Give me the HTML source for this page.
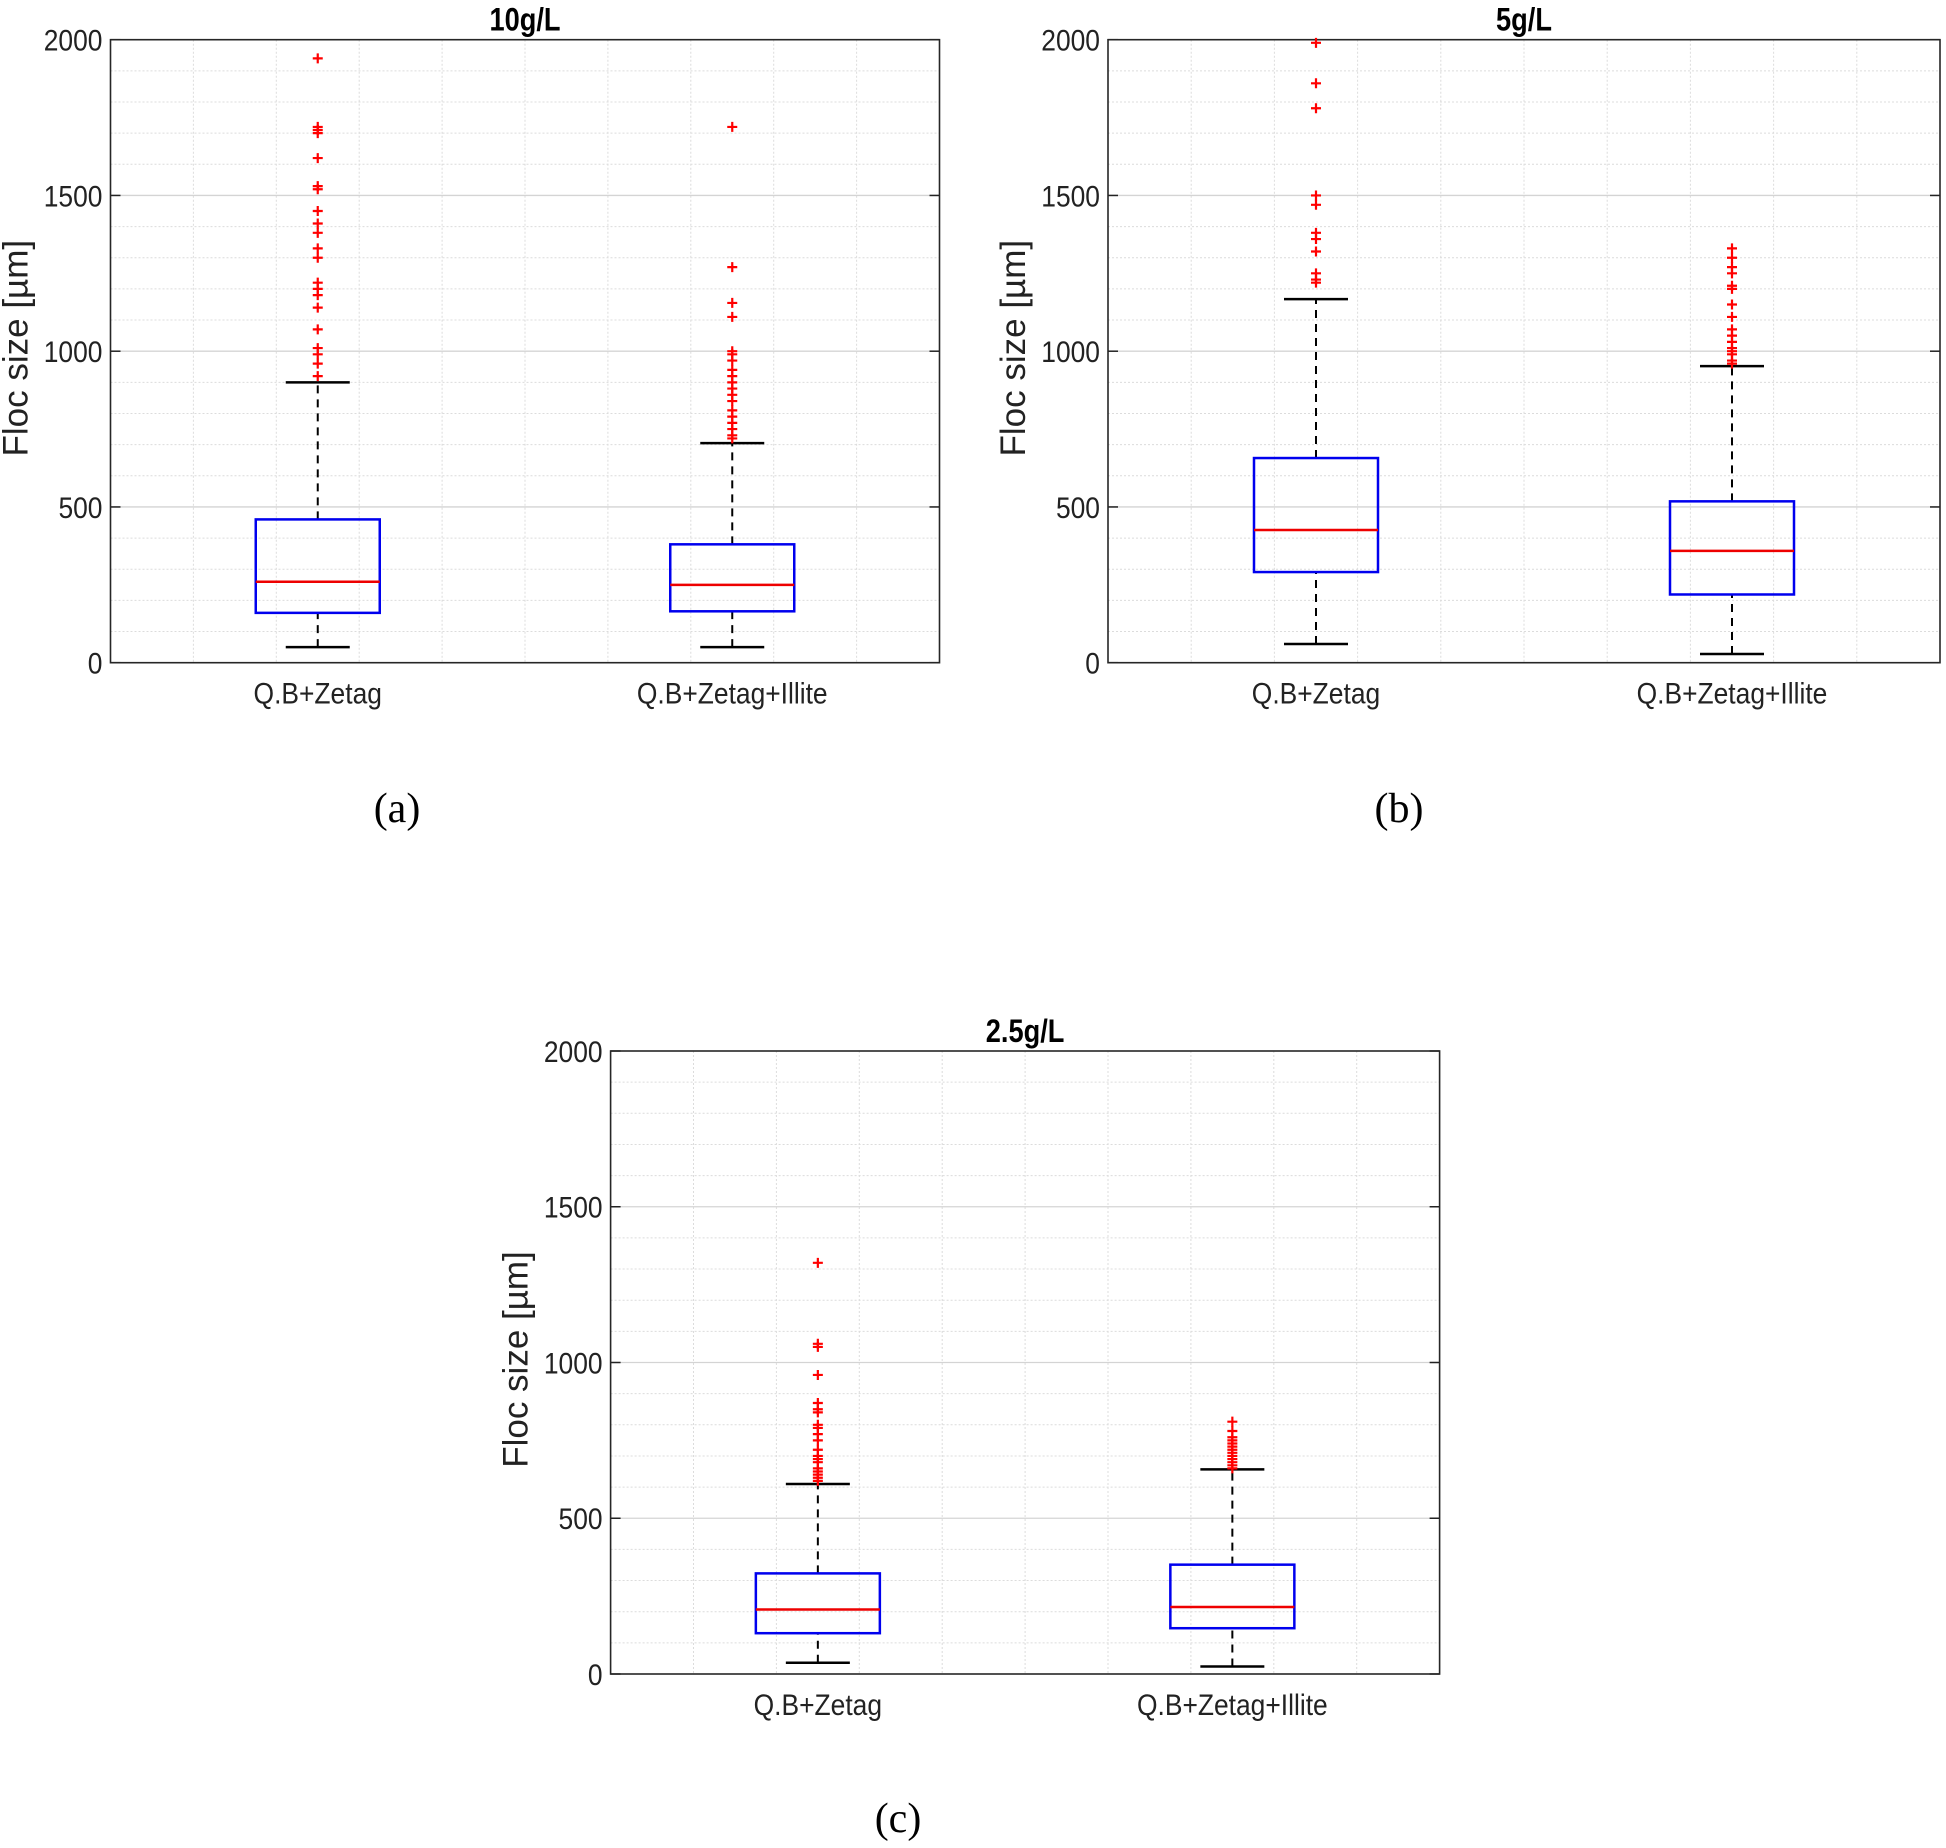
<!DOCTYPE html>
<html><head><meta charset="utf-8"><style>
html,body{margin:0;padding:0;background:#fff;}
svg{display:block;}
text{font-family:"Liberation Sans",Arial,sans-serif;}
</style></head>
<body>
<svg id="fig" width="1946" height="1848" viewBox="0 0 1946 1848" xmlns="http://www.w3.org/2000/svg"></svg>
<script>
const categories = ["Q.B+Zetag", "Q.B+Zetag+Illite"];
const yTicks = [0, 500, 1000, 1500, 2000];
const titles = ["10g/L", "5g/L", "2.5g/L"];
const captions = ["(a)", "(b)", "(c)"];
// [lowerWhisker, Q1, median, Q3, upperWhisker]
const statsA = [[50,160,260,460,900],[50,165,250,380,705]];
const statsB = [[60,291,426,657,1167],[28,219,359,518,952]];
const statsC = [[36,131,207,323,610],[24,147,215,351,657]];
const outliersA = [[1940,1720,1710,1700,1620,1530,1520,1450,1410,1380,1330,1300,1220,1200,1180,1140,1070,1010,990,960,920],
  [1720,1270,1155,1110,1000,990,970,940,920,900,880,860,840,810,790,770,750,730,720]];
const outliersB = [[1990,1860,1780,1500,1470,1380,1360,1320,1250,1230,1220],
  [1330,1300,1270,1250,1210,1200,1150,1110,1070,1050,1030,1010,1000,990,970,960]];
const outliersC = [[1320,1060,1050,960,870,850,840,800,790,770,750,720,700,690,680,660,650,640,630,620],
  [810,780,760,750,740,730,720,710,700,690,680,670,660]];

const NS = "http://www.w3.org/2000/svg";
const svg = document.getElementById("fig");
function mk(tag, attrs, parent){const e=document.createElementNS(NS,tag);for(const k in attrs)e.setAttribute(k,attrs[k]);(parent||svg).appendChild(e);return e;}

const panels = [
  {L:110.5,R:939.5,T:39.7,B:662.7,stats:statsA,out:outliersA,title:titles[0],cap:captions[0],capX:397,capY:822},
  {L:1108,R:1940,T:39.7,B:662.7,stats:statsB,out:outliersB,title:titles[1],cap:captions[1],capX:1399,capY:822},
  {L:610.6,R:1439.6,T:1051,B:1674,stats:statsC,out:outliersC,title:titles[2],cap:captions[2],capX:898,capY:1832}
];

panels.forEach((p, pi) => {
  const g = mk("g", {});
  
  
  const W = p.R - p.L, H = p.B - p.T;
  const xs = v => p.L + (v - 0.5) / 2 * W;
  const ys = v => p.B - v / 2000 * H;
  for (let v = 100; v < 2000; v += 100) {
    if (v % 500 === 0) continue;
    const l = mk("line",{x1:p.L,x2:p.R,y1:ys(v),y2:ys(v),stroke:"#dcdcdc","stroke-width":1,"stroke-dasharray":"2,2"},g);
    
    
  }
  for (let i = 1; i <= 9; i++) {
    const v = 0.5 + i * 0.2;
    const maj = Math.abs(v-1)<1e-6||Math.abs(v-2)<1e-6;
    const l = mk("line",{x1:xs(v),x2:xs(v),y1:p.T,y2:p.B,stroke:maj?"#d4d4d4":"#dcdcdc","stroke-width":1,"stroke-dasharray":maj?"none":"2,2"},g);
    
    
  }
  yTicks.forEach(t => {
    if (t > 0 && t < 2000) {
      const l = mk("line",{x1:p.L,x2:p.R,y1:ys(t),y2:ys(t),stroke:"#d4d4d4","stroke-width":1.3},g);
      
      
    }
    mk("line",{x1:p.L,x2:p.L+10,y1:ys(t),y2:ys(t),stroke:"#222","stroke-width":1.5},g);
    mk("line",{x1:p.R,x2:p.R-10,y1:ys(t),y2:ys(t),stroke:"#222","stroke-width":1.5},g);
    const tx = mk("text",{x:p.L-8,y:ys(t)+11,"text-anchor":"end","font-size":30,fill:"#222",transform:`translate(${p.L-8},0) scale(0.88,1) translate(${-(p.L-8)},0)`},g);
    tx.textContent = t;
    
    
  });
  const box = mk("rect",{x:p.L,y:p.T,width:W,height:H,fill:"none",stroke:"#262626","stroke-width":1.6},g);
  
  
  p.stats.forEach((s, ci) => {
    const cx = xs(ci + 1), hw = 62, cw = 32;
    mk("line",{x1:cx,x2:cx,y1:ys(s[3]),y2:ys(s[4]),stroke:"#000","stroke-width":2,"stroke-dasharray":"8,6"},g);
    mk("line",{x1:cx,x2:cx,y1:ys(s[0]),y2:ys(s[1]),stroke:"#000","stroke-width":2,"stroke-dasharray":"8,6"},g);
    mk("line",{x1:cx-cw,x2:cx+cw,y1:ys(s[4]),y2:ys(s[4]),stroke:"#000","stroke-width":2.5},g);
    mk("line",{x1:cx-cw,x2:cx+cw,y1:ys(s[0]),y2:ys(s[0]),stroke:"#000","stroke-width":2.5},g);
    const r = mk("rect",{x:cx-hw,y:ys(s[3]),width:2*hw,height:ys(s[1])-ys(s[3]),fill:"none",stroke:"#0000ee","stroke-width":2.5},g);
    
    
    const m = mk("line",{x1:cx-hw,x2:cx+hw,y1:ys(s[2]),y2:ys(s[2]),stroke:"#ee0000","stroke-width":2.5},g);
    
    
    p.out[ci].forEach(v => {
      const y = ys(v);
      const o = mk("path",{d:`M${cx-5},${y}H${cx+5}M${cx},${y-5}V${y+5}`,stroke:"#ff0000","stroke-width":2.2,fill:"none"},g);
      
      
    });
    const lab = mk("text",{x:cx,y:p.B+41,"text-anchor":"middle","font-size":30,fill:"#222",transform:`translate(${cx},0) scale(0.88,1) translate(${-cx},0)`},g);
    lab.textContent = categories[ci];
    
    
  });
  const tt = mk("text",{x:(p.L+p.R)/2,y:p.T-9,"text-anchor":"middle","font-size":32,"font-weight":"bold",fill:"#000",transform:`translate(${(p.L+p.R)/2},0) scale(0.85,1) translate(${-(p.L+p.R)/2},0)`},g);
  tt.textContent = p.title;
  
  
  const yl = mk("text",{x:0,y:0,"text-anchor":"middle","font-size":35,fill:"#222",transform:`translate(${p.L-83},${(p.T+p.B)/2-3}) rotate(-90)`},g);
  yl.textContent = "Floc size [µm]";
  
  
  const cp = mk("text",{x:p.capX,y:p.capY,"text-anchor":"middle","font-size":42,fill:"#000",style:"font-family:'Liberation Serif',serif"},g);
  cp.textContent = p.cap;
  
  
});
</script>
</body></html>
